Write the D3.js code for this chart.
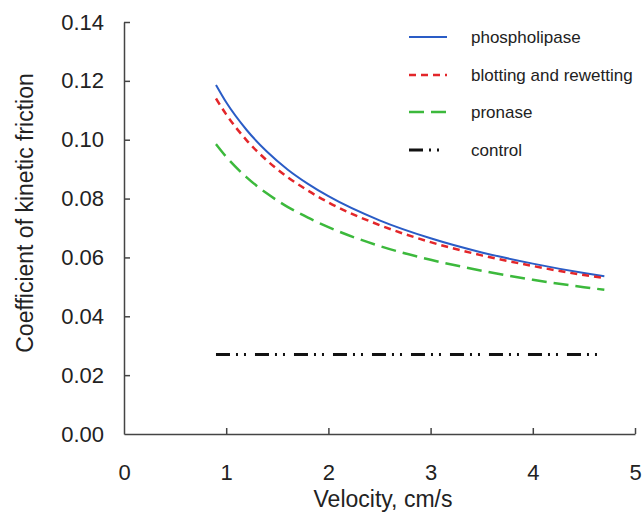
<!DOCTYPE html>
<html>
<head>
<meta charset="utf-8">
<script src="https://cdn.jsdelivr.net/npm/d3@7"></script>
<style>
  body { margin: 0; background: #fff; }
  svg { display: block; font-family: "Liberation Sans", Arial, sans-serif; }
  .axis path, .axis line { stroke: #444; stroke-width: 1.5; }
  .axis text { font-size: 22px; fill: #222; }
</style>
</head>
<body>
<div id="chart"></div>
<script>
// ── Data ─────────────────────────────────────────────────────────────────
const velocity = [0.9, 1.0, 1.2, 1.4, 1.6, 1.8, 2.0, 2.5, 3.0, 3.5, 4.0, 4.5, 4.7];

const phospholipase = [0.1186, 0.1127, 0.1033, 0.0959, 0.0899, 0.0850, 0.0808, 0.0726, 0.0665, 0.0617, 0.0579, 0.0547, 0.0536];
const blotting      = [0.1140, 0.1086, 0.0998, 0.0929, 0.0873, 0.0827, 0.0787, 0.0710, 0.0652, 0.0607, 0.0571, 0.0540, 0.0530];
const pronase       = [0.0985, 0.0942, 0.0872, 0.0817, 0.0772, 0.0735, 0.0703, 0.0639, 0.0592, 0.0555, 0.0524, 0.0499, 0.0490];
const controlX      = [0.9, 4.7];
const controlY      = [0.027, 0.027];

const xTicks = [0, 1, 2, 3, 4, 5];
const yTicks = [0, 0.02, 0.04, 0.06, 0.08, 0.10, 0.12, 0.14];

const series = [
  { name: 'phospholipase',          x: velocity, y: phospholipase, color: '#2a5cc6', width: 2,   dash: null },
  { name: 'blotting and rewetting', x: velocity, y: blotting,      color: '#e3262a', width: 2.5, dash: '7,5' },
  { name: 'pronase',                x: velocity, y: pronase,       color: '#3cb93c', width: 2.5, dash: '15,7' },
  { name: 'control',                x: controlX, y: controlY,      color: '#111',    width: 3,   dash: '14,6,2,6,2,9' },
];

// ── Layout ───────────────────────────────────────────────────────────────
const W = 642, H = 523;
const M = { top: 22, right: 7, bottom: 89, left: 124 };
const iw = W - M.left - M.right;
const ih = H - M.top - M.bottom;

const svg = d3.select('#chart').append('svg')
  .attr('width', W)
  .attr('height', H);

const g = svg.append('g').attr('transform', `translate(${M.left},${M.top})`);

const x = d3.scaleLinear().domain([0, 5]).range([0, iw]);
const y = d3.scaleLinear().domain([0, 0.14]).range([ih, 0]);

// ── Axes (ticks point inward) ────────────────────────────────────────────
g.append('g')
  .attr('class', 'axis')
  .attr('transform', `translate(0,${ih})`)
  .call(d3.axisBottom(x).tickValues(xTicks).tickFormat(d3.format('d'))
    .tickSizeInner(-6).tickSizeOuter(0).tickPadding(30))
  .call(ax => ax.selectAll('.tick').filter(d => d === 0).select('line').remove());

g.append('g')
  .attr('class', 'axis')
  .call(d3.axisLeft(y).tickValues(yTicks).tickFormat(d3.format('.2f'))
    .tickSizeInner(-6).tickSizeOuter(0).tickPadding(20))
  .call(ax => ax.selectAll('.tick').filter(d => d === 0).select('line').remove());

// Axis titles
svg.append('text')
  .attr('x', 383)
  .attr('y', 507)
  .attr('text-anchor', 'middle')
  .attr('font-size', 23)
  .attr('fill', '#222')
  .text('Velocity, cm/s');

svg.append('text')
  .attr('transform', 'translate(33,213) rotate(-90)')
  .attr('text-anchor', 'middle')
  .attr('font-size', 23)
  .attr('fill', '#222')
  .text('Coefficient of kinetic friction');

// ── Lines ────────────────────────────────────────────────────────────────
const line = d3.line()
  .x(d => x(d[0]))
  .y(d => y(d[1]))
  .curve(d3.curveMonotoneX);

series.forEach(s => {
  g.append('path')
    .datum(s.x.map((v, i) => [v, s.y[i]]))
    .attr('d', line)
    .attr('fill', 'none')
    .attr('stroke', s.color)
    .attr('stroke-width', s.width)
    .attr('stroke-dasharray', s.dash);
});

// ── Legend ───────────────────────────────────────────────────────────────
const rowY = [37, 75, 112, 150];
const legend = svg.append('g');
series.forEach((s, i) => {
  const row = legend.append('g').attr('transform', `translate(0,${rowY[i]})`);
  row.append('line')
    .attr('x1', 409).attr('x2', 447)
    .attr('stroke', s.color)
    .attr('stroke-width', s.width)
    .attr('stroke-dasharray', s.dash);
  row.append('text')
    .attr('x', 471)
    .attr('dy', '0.35em')
    .attr('font-size', 17)
    .attr('fill', '#222')
    .text(s.name);
});
</script>
</body>
</html>
